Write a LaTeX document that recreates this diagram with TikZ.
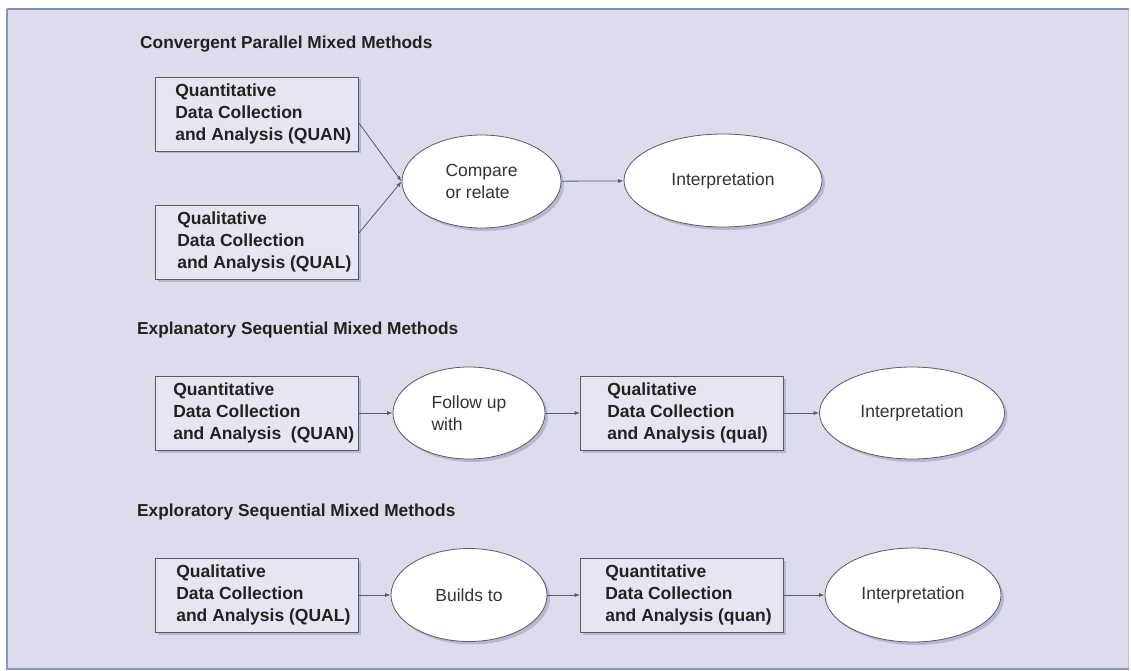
\documentclass[tikz,border=0pt]{standalone}
\usepackage{fontspec}
\setmainfont{Liberation Sans}
\usetikzlibrary{shadows,arrows.meta,shapes.geometric}
\definecolor{bgc}{HTML}{DCDCEC}
\definecolor{framec}{HTML}{8796C4}
\definecolor{boxc}{HTML}{E6E6F2}
\definecolor{linec}{HTML}{5A5A66}
\definecolor{shadc}{HTML}{A8A8C8}
\definecolor{txtc}{HTML}{222222}
\definecolor{otxtc}{HTML}{333333}
\tikzset{
  stepbox/.style={draw=linec, line width=0.8pt, fill=boxc, minimum width=203pt, minimum height=74pt, inner sep=0pt,
    drop shadow={shadow xshift=2.5pt, shadow yshift=-2.5pt, fill=shadc, opacity=0.7}},
  boxtext/.style={anchor=west, align=left, inner sep=0pt, text=txtc, font=\fontsize{17.5}{21.7}\selectfont\bfseries},
  oval/.style={ellipse, draw=linec, line width=0.8pt, fill=white, inner sep=0pt, align=left, text=otxtc,
    font=\fontsize{17.5}{21.5}\selectfont,
    drop shadow={shadow xshift=3pt, shadow yshift=-3pt, fill=shadc, opacity=0.7}},
  title/.style={anchor=base west, inner sep=0pt, text=txtc, font=\fontsize{17.3}{20}\selectfont\bfseries},
  conn/.style={draw=linec, line width=0.8pt, -{Latex[length=5.5pt,width=4pt]}},
}
\begin{document}
\begin{tikzpicture}[x=1pt,y=-1pt]
\useasboundingbox (0,0) rectangle (1131,671);
\fill[white] (0,0) rectangle (1131,671);
\fill[bgc] (7,9) rectangle (1129,669);
\draw[framec!60!white, line width=1pt] (1128.5,9) -- (1128.5,669);
\draw[framec!70!gray, line width=1.2pt] (1129,9) -- (7,9);
\draw[framec, line width=2pt] (7,9) -- (7,669) -- (1129,669);

% Convergent
\node[title] (t1) at (140,49) {Convergent Parallel Mixed Methods};
\node[stepbox] (b1) at (257,114) {};
\node[boxtext] (b1t) at ([xshift=20pt]b1.west) {Quantitative\\Data Collection\\and Analysis (QUAN)};
\node[stepbox] (b2) at (257,242) {};
\node[boxtext] (b2t) at ([xshift=22pt]b2.west) {Qualitative\\Data Collection\\and Analysis (QUAL)};
\node[oval, minimum width=159pt, minimum height=93pt] (e1) at (481.5,181.5) {Compare\\or relate};
\node[oval, minimum width=198pt, minimum height=93pt] (i1) at (723,180.5) {Interpretation};
\draw[conn] ([yshift=-9pt]b1.east) -- (e1.west);
\draw[conn] ([yshift=9pt]b2.east) -- (e1.west);
\draw[conn] (e1) -- (i1);

% Explanatory
\node[title] (t2) at (137,334) {Explanatory Sequential Mixed Methods};
\node[stepbox] (b3) at (257,413) {};
\node[boxtext] (b3t) at ([xshift=18pt]b3.west) {Quantitative\\Data Collection\\and Analysis~~(QUAN)};
\node[oval, minimum width=152pt, minimum height=92pt] (e2) at (469,413) {Follow up\\with};
\node[stepbox] (b4) at (682,413) {};
\node[boxtext] (b4t) at ([xshift=27pt]b4.west) {Qualitative\\Data Collection\\and Analysis (qual)};
\node[oval, minimum width=185pt, minimum height=92pt] (i2) at (912,413) {Interpretation};
\draw[conn] (b3) -- (e2);
\draw[conn] (e2) -- (b4);
\draw[conn] (b4) -- (i2);

% Exploratory
\node[title] (t3) at (137,516) {Exploratory Sequential Mixed Methods};
\node[stepbox] (b5) at (257,595) {};
\node[boxtext] (b5t) at ([xshift=21pt]b5.west) {Qualitative\\Data Collection\\and Analysis (QUAL)};
\node[oval, minimum width=156pt, minimum height=93pt] (e3) at (469,595) {Builds to};
\node[stepbox] (b6) at (682,595) {};
\node[boxtext] (b6t) at ([xshift=25pt]b6.west) {Quantitative\\Data Collection\\and Analysis (quan)};
\node[oval, minimum width=176pt, minimum height=94pt] (i3) at (913,595) {Interpretation};
\draw[conn] (b5) -- (e3);
\draw[conn] (e3) -- (b6);
\draw[conn] (b6) -- (i3);
\end{tikzpicture}
\end{document}
